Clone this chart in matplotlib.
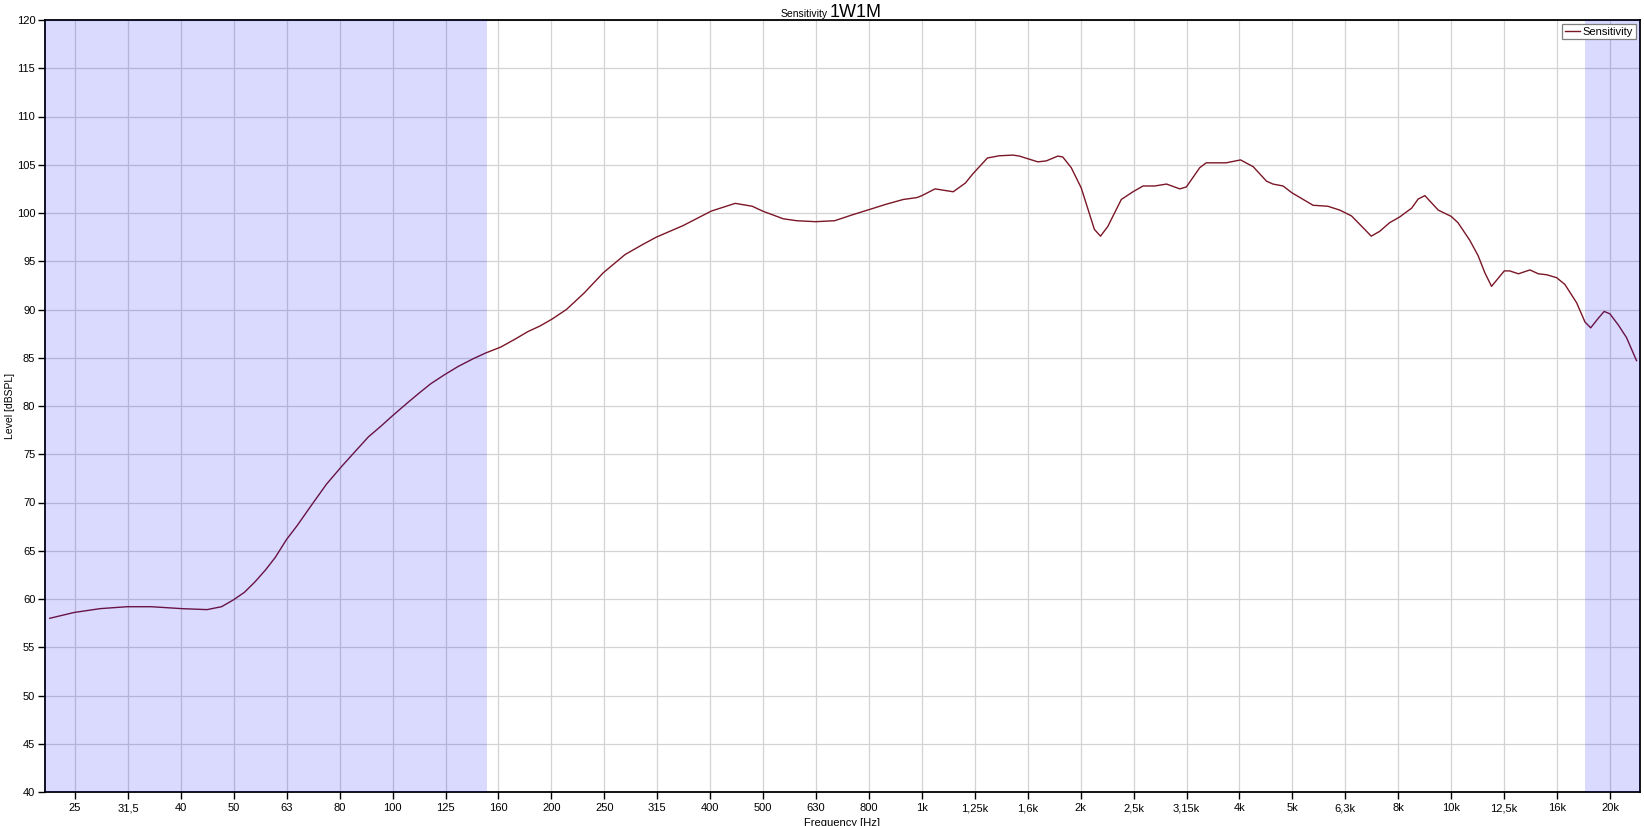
import numpy as np
import matplotlib
matplotlib.use("Agg")
import matplotlib.pyplot as plt

plt.rcParams['font.family'] = ['Liberation Sans', 'DejaVu Sans']

freq = [22.5, 25, 28, 31.5, 35, 40, 44.6, 47.5, 50, 52.5,
        55, 57.5, 60, 63, 66, 70, 75, 80, 85, 90,
        95, 100, 106, 112, 118, 125, 133, 142, 150, 160,
        170, 180, 190, 200, 213, 230, 250, 275, 296, 315,
        354, 400, 444, 478, 500, 547, 580, 630, 684, 738,
        800, 855, 922, 979, 1000, 1059, 1146, 1208, 1250, 1330,
        1400, 1486, 1528, 1656, 1718, 1807, 1846, 1915, 2000, 2118,
        2175, 2245, 2381, 2505, 2617, 2754, 2899, 3071, 3160, 3350,
        3445, 3758, 4000, 4226, 4478, 4606, 4812, 5000, 5483, 5848,
        6160, 6481, 6866, 7063, 7328, 7653, 8000, 8180, 8420, 8664,
        8919, 9453, 10000, 10300, 10836, 11240, 11580, 11920, 12600, 12900,
        13400, 14090, 14610, 15150, 15820, 16400, 17260, 17900, 18350, 18970,
        19460, 19950, 20690, 21440, 22400]
level = [58.0, 58.6, 59.0, 59.2, 59.2, 59.0, 58.9, 59.2, 59.9, 60.7,
         61.8, 63.0, 64.3, 66.15, 67.6, 69.6, 71.9, 73.7, 75.3, 76.8,
         77.9, 79.0, 80.2, 81.3, 82.3, 83.2, 84.1, 84.9, 85.5, 86.1,
         86.9, 87.7, 88.3, 89.0, 90.0, 91.7, 93.8, 95.7, 96.7, 97.5,
         98.7, 100.2, 101.0, 100.7, 100.2, 99.4, 99.2, 99.1, 99.2, 99.8,
         100.4, 100.9, 101.4, 101.6, 101.8, 102.5, 102.2, 103.1, 104.1, 105.7,
         105.93, 106.0, 105.9, 105.3, 105.4, 105.9, 105.8, 104.7, 102.6, 98.3,
         97.6, 98.6, 101.4, 102.2, 102.8, 102.8, 103.0, 102.5, 102.7, 104.7,
         105.2, 105.2, 105.5, 104.8, 103.3, 103.0, 102.8, 102.1, 100.8, 100.7,
         100.3, 99.7, 98.3, 97.6, 98.1, 99.0, 99.6, 100.0, 100.5, 101.45,
         101.8, 100.3, 99.65, 99.0, 97.2, 95.6, 93.8, 92.4, 94.0, 94.0,
         93.7, 94.1, 93.7, 93.6, 93.3, 92.6, 90.7, 88.7, 88.1, 89.1,
         89.8, 89.55, 88.4, 87.1, 84.7]

#--- 1/3 octave tick labels (25 Hz .. 20 kHz)
tick_labels = ["25", "31,5", "40", "50", "63", "80", "100", "125", "160", "200",
               "250", "315", "400", "500", "630", "800", "1k", "1,25k", "1,6k", "2k",
               "2,5k", "3,15k", "4k", "5k", "6,3k", "8k", "10k", "12,5k", "16k", "20k"]
tick_freqs = [10 ** (1.4 + 0.1 * i) for i in range(len(tick_labels))]

#--- out of range bands
band_low = [22.04, 151.1]
band_high = [17900, 22740]

fig = plt.figure(figsize=(16.44, 8.26), dpi=100)
ax = fig.add_axes([45 / 1644, 34 / 826, 1595 / 1644, 772 / 826])

ax.set_xscale('log')
ax.set_xlim(22.04, 22740)
ax.set_ylim(40, 120)

ax.plot(freq, level, color='#7a1626', lw=1.0, zorder=2, label='Sensitivity')

# blue bands drawn on top, semi transparent
ax.axvspan(band_low[0], band_low[1], color='#0000ff', alpha=0.145, lw=0, zorder=3)
ax.axvspan(band_high[0], band_high[1], color='#0000ff', alpha=0.145, lw=0, zorder=3)

ax.set_xticks(tick_freqs)
ax.set_xticklabels(tick_labels)
ax.xaxis.set_minor_locator(matplotlib.ticker.NullLocator())
ax.set_yticks(np.arange(40, 121, 5))

ax.grid(True, color='#d3d3d3', lw=0.9, zorder=1)
ax.set_axisbelow(True)

ax.tick_params(axis='both', which='major', direction='out', length=5, width=1,
               labelsize=8, color='black', pad=2)
ax.tick_params(axis='x', pad=3)
for s in ax.spines.values():
    s.set_linewidth(1.3)
    s.set_color('black')

#--- axis labels placed in figure coords
fig.text(10 / 1644, 1 - 406 / 826, 'Level [dBSPL]', fontsize=7.5, rotation=90,
         ha='center', va='center')
fig.text(842 / 1644, 1 - 823 / 826, 'Frequency [Hz]', fontsize=8, ha='center', va='center')

#--- title: small + large part
fig.text(828 / 1644, 1 - 17 / 826, 'Sensitivity', fontsize=7.5, ha='right', va='baseline')
fig.text(830 / 1644, 1 - 17 / 826, '1W1M', fontsize=13, ha='left', va='baseline')

leg = ax.legend(loc='upper right', fontsize=8, frameon=True, fancybox=False,
                handlelength=1.3, handletextpad=0.3, borderpad=0.25,
                borderaxespad=0.35, framealpha=1)
leg.get_frame().set_edgecolor('#7f7f7f')
leg.get_frame().set_linewidth(0.9)
leg.set_zorder(5)

fig.savefig('out.png', dpi=100)
